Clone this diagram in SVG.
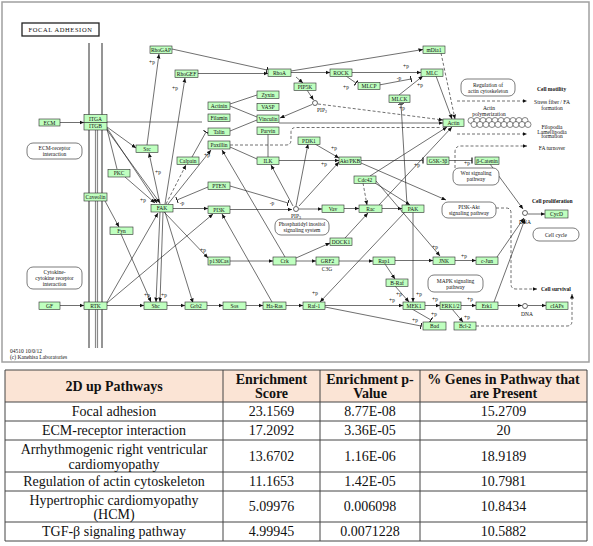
<svg xmlns="http://www.w3.org/2000/svg" width="593" height="546" viewBox="0 0 593 546">
<defs>
<style>
.n rect{fill:#bfffbf;stroke:#2a2a2a;stroke-width:.6}
.n text,.l{font-family:"Liberation Serif",serif;font-size:5.5px;fill:#111;text-anchor:middle}
.s{text-anchor:start}
.b{font-weight:bold}
.c path{fill:none;stroke:#222;stroke-width:.65}
.c .d{stroke-dasharray:3 2}
.pb rect{fill:#fff;stroke:#444;stroke-width:.7}
.mem{stroke:#8a8a8a;fill:none}
.t{font-family:"Liberation Serif",serif;font-size:14px;fill:#111;text-anchor:middle}
.th{font-weight:bold}
.g{stroke:#444;stroke-width:1;fill:none}
</style>
<marker id="a" viewBox="0 0 8 8" refX="8" refY="4" markerWidth="4.5" markerHeight="4.5" orient="auto" markerUnits="userSpaceOnUse"><path d="M0,0.5 L8,4 L0,7.5 z" fill="#111"/></marker>
<marker id="t" viewBox="0 0 2 10" refX="1" refY="5" markerWidth="1.2" markerHeight="7" orient="auto" markerUnits="userSpaceOnUse"><path d="M1,0 V10" stroke="#111" stroke-width="2"/></marker>
</defs>
<rect x="0" y="0" width="593" height="546" fill="#fff"/>
<rect x="2" y="2" width="587" height="360" fill="#fff" stroke="#a0a0a0" stroke-width="1.5"/>
<g id="title">
<rect x="22" y="23" width="77" height="13" fill="#fff" stroke="#222" stroke-width="1.3"/>
<text x="60.5" y="32" class="l" style="font-size:6.5px;letter-spacing:.6px">FOCAL ADHESION</text>
</g>
<g id="membrane">
<path class="mem" stroke-width="1.8" d="M89,43 V348 M102,43 V348"/>
<path class="mem" stroke-width="1.2" d="M95.5,130 V348 M97.5,130 V348"/>
</g>
<g class="c" id="connectors">
<path d="M60,122.5 H84" marker-end="url(#a)"/>
<path d="M107,122 H202"/>
<path d="M107,127 L136,148" marker-end="url(#a)"/>
<path d="M107,129 L117,169"/>
<path d="M107,128 L157,203" marker-end="url(#a)"/>
<path d="M107,130 L160,203" marker-end="url(#a)"/>
<path d="M125,177 L155,203" marker-end="url(#a)"/>
<path d="M147,145 L159,54" marker-end="url(#a)"/>
<path d="M160,204 L149,153" marker-end="url(#a)"/>
<path d="M165,204 L185,78" marker-end="url(#a)"/>
<path class="d" d="M166,204 L186,165" marker-end="url(#a)"/>
<path d="M192,157 L206,132" marker-end="url(#t)"/>
<path d="M168,204 L211,150" marker-end="url(#a)"/>
<path d="M172,49 L267,70" marker-end="url(#t)"/>
<path d="M198,73.5 H268" marker-end="url(#a)"/>
<path d="M291,72.5 H330" marker-end="url(#a)"/>
<path d="M291,71 L423,49.5" marker-end="url(#a)"/>
<path d="M296,77 L303,83" marker-end="url(#a)"/>
<path d="M307,90 L313.5,100" marker-end="url(#a)"/>
<path d="M312,104.5 L280,118" marker-end="url(#a)"/>
<path class="d" d="M318,104 L443,120" marker-end="url(#a)"/>
<path d="M352,72.5 H421" marker-end="url(#a)"/>
<path d="M346,76 L356,83" marker-end="url(#t)"/>
<path d="M379,85 L411,79" marker-end="url(#t)"/>
<path d="M399,95 L423,76" marker-end="url(#a)"/>
<path class="d" d="M441,53 L455,119" marker-end="url(#a)"/>
<path d="M436,76 L452,119" marker-end="url(#a)"/>
<path d="M279,123 H443" marker-end="url(#a)"/>
<path d="M230,104 L257,95 M230,106 L257,117 M230,131 L257,120 M268,134 V157 M230,147 L257,159"/>
<path class="d" d="M230,145 H286 Q291,145 291,140 V132 Q291,127.5 296,127.5 H440"/>
<path class="d" d="M455,168 V152 Q455,146 461,146 H527" marker-end="url(#a)"/>
<path class="d" d="M457,101 H527" marker-end="url(#a)"/>
<path class="d" d="M457,134 H527" marker-end="url(#a)"/>
<path d="M279,160.5 H339" marker-end="url(#a)"/>
<path d="M315,144 L339,158" marker-end="url(#a)"/>
<path d="M296,206 L308,144" marker-end="url(#a)"/>
<path d="M299,206 L339,162" marker-end="url(#a)"/>
<path d="M293,206 L271,165" marker-end="url(#a)"/>
<path d="M361,160.5 H423" marker-end="url(#t)"/>
<path d="M449,160.5 H472" marker-end="url(#t)"/>
<path d="M361,163 L446,200" marker-end="url(#a)"/>
<path d="M376,181 L440,256" marker-end="url(#a)"/>
<path d="M490,164 L523,209" marker-end="url(#a)"/>
<path d="M528,214 H545" marker-end="url(#a)"/>
<path d="M497,257 L524,218" marker-end="url(#a)"/>
<path d="M494,302 L525,219" marker-end="url(#a)"/>
<path d="M498,305.5 H522" marker-end="url(#a)"/>
<path d="M528,305.5 H546" marker-end="url(#a)"/>
<path class="d" d="M496,208 H506 Q511,208 511,213 V284 Q511,289 516,289 H537" marker-end="url(#a)"/>
<path class="d" d="M476,326 H567 Q572,326 572,321 V294" marker-end="url(#a)"/>
<path d="M208,187 L177,200" marker-end="url(#t)"/>
<path d="M230,186 L288,203" marker-end="url(#t)"/>
<path d="M173,208.5 H208" marker-end="url(#a)"/>
<path d="M230,209.5 H292" marker-end="url(#a)"/>
<path d="M299,209 H322" marker-end="url(#a)"/>
<path d="M344,208.5 H359" marker-end="url(#a)"/>
<path d="M382,208.5 H402" marker-end="url(#a)"/>
<path class="d" d="M363,183 L367,205" marker-end="url(#a)"/>
<path d="M375,183 L410,205" marker-end="url(#a)"/>
<path d="M370,176 L447,127" marker-end="url(#a)"/>
<path d="M379,205 L452,127" marker-end="url(#a)"/>
<path d="M407,205 L401,104" marker-end="url(#t)"/>
<path d="M413,212 V302" marker-end="url(#a)"/>
<path d="M405,212 L320,302" marker-end="url(#a)"/>
<path d="M164,212 L208,258" marker-end="url(#a)"/>
<path d="M230,261 H273" marker-end="url(#a)"/>
<path d="M296,261 H316" marker-end="url(#a)"/>
<path d="M296,258 L330,243" marker-end="url(#a)"/>
<path d="M345,238 L368,213" marker-end="url(#a)"/>
<path d="M285,257 L222,150" marker-end="url(#a)"/>
<path d="M339,261 H373" marker-end="url(#a)"/>
<path d="M385,264 L395,279" marker-end="url(#a)"/>
<path d="M395,260.5 H433" marker-end="url(#a)"/>
<path d="M455,260.5 H476" marker-end="url(#a)"/>
<path d="M395,286 L409,302" marker-end="url(#a)"/>
<path d="M325,305.5 H403" marker-end="url(#a)"/>
<path d="M325,307 L421,326" marker-end="url(#t)"/>
<path d="M412,309 L431,320" marker-end="url(#t)"/>
<path d="M425,305.5 H440" marker-end="url(#a)"/>
<path d="M461,305.5 H476" marker-end="url(#a)"/>
<path d="M452,309 L463,322" marker-end="url(#a)"/>
<path d="M60,305.5 H84" marker-end="url(#a)"/>
<path d="M107,305.5 H144" marker-end="url(#a)"/>
<path d="M167,305.5 H185" marker-end="url(#a)"/>
<path d="M207,305.5 H223" marker-end="url(#a)"/>
<path d="M246,305.5 H263" marker-end="url(#a)"/>
<path d="M286,305.5 H303" marker-end="url(#a)"/>
<path d="M107,302 L158,213" marker-end="url(#a)"/>
<path d="M107,303 L213,214" marker-end="url(#a)"/>
<path d="M272,302 L222,214" marker-end="url(#a)"/>
<path d="M160,212 L156,302" marker-end="url(#a)"/>
<path d="M163,212 L160,302" marker-end="url(#a)"/>
<path d="M121,234 L151,302" marker-end="url(#a)"/>
<path d="M165,212 L193,303" marker-end="url(#a)"/>
<path d="M105,201 L119,227" marker-end="url(#a)"/>
</g>
<g id="small">
<circle cx="315" cy="103" r="2.5" fill="#fff" stroke="#222" stroke-width=".7"/>
<circle cx="296" cy="209" r="2.5" fill="#fff" stroke="#222" stroke-width=".7"/>
<circle cx="525" cy="213" r="2.5" fill="#fff" stroke="#222" stroke-width=".7"/>
<circle cx="525" cy="306" r="2.5" fill="#fff" stroke="#222" stroke-width=".7"/>
<g fill="#fff" stroke="#333" stroke-width=".6">
<circle cx="471" cy="120.5" r="3"/><circle cx="477" cy="120.5" r="3"/><circle cx="483" cy="120.5" r="3"/><circle cx="489" cy="120.5" r="3"/><circle cx="495" cy="120.5" r="3"/><circle cx="501" cy="120.5" r="3"/><circle cx="507" cy="120.5" r="3"/><circle cx="513" cy="120.5" r="3"/><circle cx="519" cy="120.5" r="3"/><circle cx="525" cy="120.5" r="3"/>
<circle cx="474" cy="124.5" r="3"/><circle cx="480" cy="124.5" r="3"/><circle cx="486" cy="124.5" r="3"/><circle cx="492" cy="124.5" r="3"/><circle cx="498" cy="124.5" r="3"/><circle cx="504" cy="124.5" r="3"/><circle cx="510" cy="124.5" r="3"/><circle cx="516" cy="124.5" r="3"/><circle cx="522" cy="124.5" r="3"/><circle cx="528" cy="124.5" r="3"/>
</g>
<text class="l" x="322" y="112">PIP<tspan dy="1" style="font-size:4px">2</tspan></text>
<text class="l" x="296" y="218">PIP<tspan dy="1" style="font-size:4px">3</tspan></text>
<text class="l" x="525" y="224">DNA</text>
<text class="l" x="527" y="316">DNA</text>
<text class="l" x="327" y="271">C3G</text>
<text class="l" x="489" y="110">Actin</text>
<text class="l" x="489" y="115.5">polymerization</text>
<text class="l b s" x="537" y="91">Cell motility</text>
<text class="l" x="552" y="104">Stress fiber / FA</text>
<text class="l" x="552" y="110">formation</text>
<text class="l" x="552" y="129">Filopodia</text>
<text class="l" x="552" y="133.5">Lamellipodia</text>
<text class="l" x="552" y="138">formation</text>
<text class="l" x="552" y="150">FA turnover</text>
<text class="l b s" x="532" y="203">Cell proliferation</text>
<text class="l b s" x="541" y="291">Cell survival</text>
<text class="l s" x="10" y="353">04510 10/0/12</text>
<text class="l s" x="10" y="358.5">(c) Kanehisa Laboratories</text>
<g class="l">
<text x="152" y="64">+p</text><text x="175" y="90">+p</text><text x="406" y="68">+p</text><text x="346" y="89">+p</text><text x="399" y="80">-p</text><text x="420" y="87">+p</text><text x="402" y="110">+p</text><text x="334" y="150">+p</text><text x="324" y="166">+p</text><text x="417" y="167">+p</text><text x="467" y="165">+p</text><text x="158" y="174">+p</text><text x="143" y="202">+p</text><text x="207" y="157">+p</text><text x="182" y="205">-p</text><text x="272" y="205">-p</text><text x="203" y="252">+p</text><text x="147" y="297">+p</text><text x="164" y="297">+p</text><text x="315" y="295">+p</text><text x="392" y="302">+p</text><text x="399" y="296">+p</text><text x="419" y="296">+p</text><text x="435" y="301">+p</text><text x="470" y="301">+p</text><text x="467" y="319">+p</text><text x="415" y="322">+p</text><text x="434" y="316">+p</text><text x="435" y="249">+p</text><text x="464" y="258">+p</text>
</g>
</g>
<g class="pb">
<g id="pb-ecm"><rect x="27" y="143" width="55" height="16" rx="6"/><text class="l" x="54.5" y="150">ECM-receptor</text><text class="l" x="54.5" y="156">interaction</text></g>
<g id="pb-cyt"><rect x="27" y="267" width="55" height="22" rx="6"/><text class="l" x="54.5" y="274">Cytokine-</text><text class="l" x="54.5" y="280">cytokine receptor</text><text class="l" x="54.5" y="286">interaction</text></g>
<g id="pb-reg"><rect x="461" y="79" width="54" height="17" rx="6"/><text class="l" x="488" y="86.5">Regulation of</text><text class="l" x="488" y="92.5">actin cytoskeleton</text></g>
<g id="pb-wnt"><rect x="453" y="168" width="46" height="17" rx="6"/><text class="l" x="476" y="175">Wnt signaling</text><text class="l" x="476" y="181">pathway</text></g>
<g id="pb-pi3k"><rect x="442" y="202" width="54" height="16" rx="6"/><text class="l" x="469" y="209">PI3K-Akt</text><text class="l" x="469" y="215">signaling pathway</text></g>
<g id="pb-pis"><rect x="275" y="219" width="54" height="16" rx="6"/><text class="l" x="302" y="226">Phosphatidyl inositol</text><text class="l" x="302" y="232">signaling system</text></g>
<g id="pb-cc"><rect x="533" y="228" width="46" height="13" rx="6"/><text class="l" x="556" y="237">Cell cycle</text></g>
<g id="pb-mapk"><rect x="428" y="275" width="55" height="17" rx="6"/><text class="l" x="455.5" y="282.5">MAPK signaling</text><text class="l" x="455.5" y="288.5">pathway</text></g>
</g>
<g id="RhoGAP" class="n"><rect x="150" y="46" width="22" height="7.5"/><text x="161" y="51.8">RhoGAP</text></g>
<g id="RhoGEF" class="n"><rect x="175" y="70" width="23" height="7.5"/><text x="186.5" y="75.8">RhoGEF</text></g>
<g id="ECM" class="n"><rect x="39" y="119" width="21" height="7"/><text x="49.5" y="124.5">ECM</text></g>
<g id="ITOA" class="n"><rect x="84" y="114.5" width="23" height="8"/><text x="95.5" y="120.5">ITGA</text></g>
<g id="ITOB" class="n"><rect x="84" y="122.5" width="23" height="7.5"/><text x="95.5" y="128.3">ITGB</text></g>
<g id="Src" class="n"><rect x="136" y="145" width="22" height="7.5"/><text x="147" y="150.8">Src</text></g>
<g id="Calpain" class="n"><rect x="177" y="157" width="22" height="7.5"/><text x="188" y="162.8">Calpain</text></g>
<g id="PKC" class="n"><rect x="108" y="169.5" width="22" height="7.5"/><text x="119" y="175.3">PKC</text></g>
<g id="Caveolin" class="n"><rect x="84" y="193" width="23" height="8"/><text x="95.5" y="199">Caveolin</text></g>
<g id="FAK" class="n"><rect x="151" y="204.5" width="22" height="7.5"/><text x="162" y="210.3">FAK</text></g>
<g id="Fyn" class="n"><rect x="110" y="227" width="23" height="7.5"/><text x="121.5" y="232.8">Fyn</text></g>
<g id="GF" class="n"><rect x="39" y="302" width="21" height="7.5"/><text x="49.5" y="307.8">GF</text></g>
<g id="RTK" class="n"><rect x="84" y="302" width="23" height="7.5"/><text x="95.5" y="307.8">RTK</text></g>
<g id="Shc" class="n"><rect x="144" y="302" width="23" height="7.5"/><text x="155.5" y="307.8">Shc</text></g>
<g id="Grb2" class="n"><rect x="185" y="302" width="22" height="7.5"/><text x="196" y="307.8">Grb2</text></g>
<g id="Sos" class="n"><rect x="223" y="302" width="23" height="7.5"/><text x="234.5" y="307.8">Sos</text></g>
<g id="HaRas" class="n"><rect x="263" y="302" width="23" height="7.5"/><text x="274.5" y="307.8">Ha-Ras</text></g>
<g id="Raf1" class="n"><rect x="303" y="302" width="22" height="7.5"/><text x="314" y="307.8">Raf-1</text></g>
<g id="RhoA" class="n"><rect x="268" y="69" width="23" height="7.5"/><text x="279.5" y="74.8">RhoA</text></g>
<g id="ROCK" class="n"><rect x="330" y="69" width="22" height="7.5"/><text x="341" y="74.8">ROCK</text></g>
<g id="PIP5K" class="n"><rect x="294" y="83" width="22" height="7.5"/><text x="305" y="88.8">PIP5K</text></g>
<g id="MLCP" class="n"><rect x="358" y="82.5" width="22" height="7"/><text x="369" y="88">MLCP</text></g>
<g id="Zyxin" class="n"><rect x="257" y="91" width="22" height="7.5"/><text x="268" y="96.8">Zyxin</text></g>
<g id="Actinin" class="n"><rect x="208" y="102" width="22" height="7.5"/><text x="219" y="107.8">Actinin</text></g>
<g id="VASP" class="n"><rect x="257" y="103.5" width="22" height="7"/><text x="268" y="109">VASP</text></g>
<g id="Filamin" class="n"><rect x="208" y="114" width="22" height="7.5"/><text x="219" y="119.8">Filamin</text></g>
<g id="Vinculin" class="n"><rect x="257" y="115" width="22" height="7.5"/><text x="268" y="120.8">Vinculin</text></g>
<g id="Talin" class="n"><rect x="208" y="128" width="22" height="7.5"/><text x="219" y="133.8">Talin</text></g>
<g id="Parvin" class="n"><rect x="257" y="127" width="22" height="7.5"/><text x="268" y="132.8">Parvin</text></g>
<g id="Paxillin" class="n"><rect x="208" y="141" width="22" height="8"/><text x="219" y="147">Paxillin</text></g>
<g id="PDK1" class="n"><rect x="298" y="137" width="22" height="7.5"/><text x="309" y="142.8">PDK1</text></g>
<g id="ILK" class="n"><rect x="257" y="157" width="22" height="7.5"/><text x="268" y="162.8">ILK</text></g>
<g id="Akt" class="n"><rect x="339" y="157" width="22" height="7.5"/><text x="350" y="162.8">Akt/PKB</text></g>
<g id="Cdc42" class="n"><rect x="354" y="176" width="22" height="7.5"/><text x="365" y="181.8">Cdc42</text></g>
<g id="mDia1" class="n"><rect x="423" y="46" width="22" height="7.5"/><text x="434" y="51.8">mDia1</text></g>
<g id="MLC" class="n"><rect x="421" y="69" width="22" height="7.5"/><text x="432" y="74.8">MLC</text></g>
<g id="MLCK" class="n"><rect x="389" y="95" width="21" height="7.5"/><text x="399.5" y="100.8">MLCK</text></g>
<g id="Actin" class="n"><rect x="443" y="119" width="21" height="7.5"/><text x="453.5" y="124.8">Actin</text></g>
<g id="GSK3b" class="n"><rect x="427" y="157" width="22" height="7.5"/><text x="438" y="162.8">GSK-3β</text></g>
<g id="bCatenin" class="n"><rect x="475" y="157" width="24" height="7.5"/><text x="487" y="162.8">β-Catenin</text></g>
<g id="PTEN" class="n"><rect x="208" y="182" width="22" height="7.5"/><text x="219" y="187.8">PTEN</text></g>
<g id="PI3K" class="n"><rect x="208" y="206" width="22" height="7.5"/><text x="219" y="211.8">PI3K</text></g>
<g id="Vav" class="n"><rect x="322" y="205" width="22" height="7.5"/><text x="333" y="210.8">Vav</text></g>
<g id="Rac" class="n"><rect x="359" y="205" width="23" height="7.5"/><text x="370.5" y="210.8">Rac</text></g>
<g id="PAK" class="n"><rect x="402" y="205" width="22" height="7.5"/><text x="413" y="210.8">PAK</text></g>
<g id="DOCK1" class="n"><rect x="330" y="238" width="22" height="7.5"/><text x="341" y="243.8">DOCK1</text></g>
<g id="p130Cas" class="n"><rect x="208" y="257" width="22" height="8"/><text x="219" y="263">p130Cas</text></g>
<g id="Crk" class="n"><rect x="273" y="257" width="23" height="8"/><text x="284.5" y="263">Crk</text></g>
<g id="GRF2" class="n"><rect x="316" y="257" width="23" height="8"/><text x="327.5" y="263">GRF2</text></g>
<g id="Rap1" class="n"><rect x="373" y="257" width="22" height="7.5"/><text x="384" y="262.8">Rap1</text></g>
<g id="BRaf" class="n"><rect x="386" y="279" width="22" height="7.5"/><text x="397" y="284.8">B-Raf</text></g>
<g id="JNK" class="n"><rect x="433" y="257" width="22" height="7.5"/><text x="444" y="262.8">JNK</text></g>
<g id="cJun" class="n"><rect x="476" y="257" width="22" height="7.5"/><text x="487" y="262.8">c-Jun</text></g>
<g id="CycD" class="n"><rect x="545" y="210" width="23" height="8"/><text x="556.5" y="216">CycD</text></g>
<g id="MEK1" class="n"><rect x="403" y="302" width="22" height="7.5"/><text x="414" y="307.8">MEK1</text></g>
<g id="ERK12" class="n"><rect x="440" y="302" width="21" height="7.5"/><text x="450.5" y="307.8">ERK1/2</text></g>
<g id="Erk1" class="n"><rect x="476" y="302" width="22" height="7.5"/><text x="487" y="307.8">Erk1</text></g>
<g id="cIAPs" class="n"><rect x="546" y="302" width="22" height="7.5"/><text x="557" y="307.8">cIAPs</text></g>
<g id="Bad" class="n"><rect x="423" y="322" width="23" height="8"/><text x="434.5" y="328">Bad</text></g>
<g id="Bcl2" class="n"><rect x="454" y="322" width="22" height="8"/><text x="465" y="328">Bcl-2</text></g>
<g id="table">
<rect x="5" y="370" width="582" height="32" fill="#fbe4d5"/>
<path class="g" d="M5,370 H587 M5,402 H587 M5,421 H587 M5,440 H587 M5,472 H587 M5,491 H587 M5,522 H587 M5,541 H587 M5,370 V541 M223,370 V541 M320,370 V541 M420,370 V541 M587,370 V541"/>
<text class="t th" x="114" y="391">2D up Pathways</text>
<text class="t th" x="271.5" y="384">Enrichment</text><text class="t th" x="271.5" y="398">Score</text>
<text class="t th" x="370" y="384">Enrichment p-</text><text class="t th" x="370" y="398">Value</text>
<text class="t th" x="503.5" y="384">% Genes in Pathway that</text><text class="t th" x="503.5" y="398">are Present</text>
<text class="t" x="114" y="416">Focal adhesion</text><text class="t" x="271.5" y="416">23.1569</text><text class="t" x="370" y="416">8.77E-08</text><text class="t" x="503.5" y="416">15.2709</text>
<text class="t" x="114" y="435">ECM-receptor interaction</text><text class="t" x="271.5" y="435">17.2092</text><text class="t" x="370" y="435">3.36E-05</text><text class="t" x="503.5" y="435">20</text>
<text class="t" x="114" y="453.5">Arrhythmogenic right ventricular</text><text class="t" x="114" y="468.5">cardiomyopathy</text><text class="t" x="271.5" y="461">13.6702</text><text class="t" x="370" y="461">1.16E-06</text><text class="t" x="503.5" y="461">18.9189</text>
<text class="t" x="114" y="486">Regulation of actin cytoskeleton</text><text class="t" x="271.5" y="486">11.1653</text><text class="t" x="370" y="486">1.42E-05</text><text class="t" x="503.5" y="486">10.7981</text>
<text class="t" x="114" y="504.5">Hypertrophic cardiomyopathy</text><text class="t" x="114" y="518.5">(HCM)</text><text class="t" x="271.5" y="511">5.09976</text><text class="t" x="370" y="511">0.006098</text><text class="t" x="503.5" y="511">10.8434</text>
<text class="t" x="114" y="536">TGF-β signaling pathway</text><text class="t" x="271.5" y="536">4.99945</text><text class="t" x="370" y="536">0.0071228</text><text class="t" x="503.5" y="536">10.5882</text>
</g>
</svg>
